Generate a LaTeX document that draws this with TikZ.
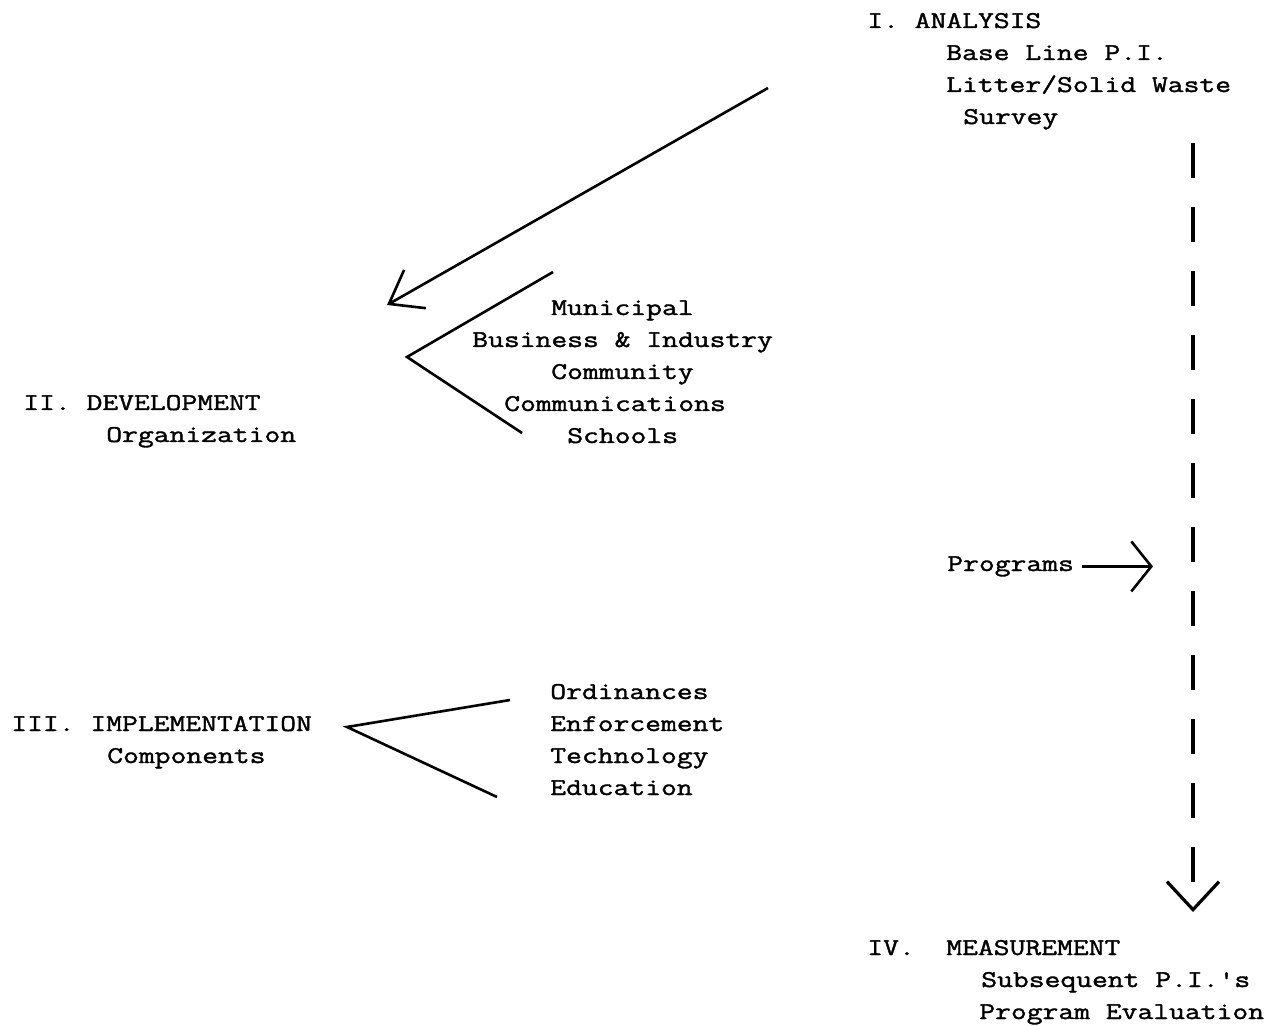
\documentclass[tikz,border=0pt]{standalone}
\usepackage{fontspec}
\newfontfamily\typer{lmmono12-regular.otf}[FakeStretch=1.28,FakeBold=1.5]
\usetikzlibrary{arrows.meta}

\begin{document}
\begin{tikzpicture}[x=0.5pt,y=-0.5pt,line width=1.3pt]
	\tikzstyle{txt} = [inner sep=0pt,anchor=base west,font=\typer\fontsize{12pt}{16pt}\selectfont]
	\tikzstyle{barb} = [-{Straight Barb[length=15pt,width=22pt]}]
	\useasboundingbox (0,0) rectangle (1274,1026);

	% I. analysis
	\node[txt] (ana) at (866,28) {I. ANALYSIS};
	\node[txt] (baseline) at (945,60) {Base Line P.I.};
	\node[txt] (litter) at (945,92) {Litter/Solid Waste};
	\node[txt] (survey) at (962,124) {Survey};

	% II. development
	\node[txt] (dev) at (22,410) {II. DEVELOPMENT};
	\node[txt] (org) at (105,442) {Organization};
	\node[txt] (muni) at (550,315) {Municipal};
	\node[txt] (business) at (471,347) {Business \& Industry};
	\node[txt] (community) at (550,379) {Community};
	\node[txt] (comms) at (503,411) {Communications};
	\node[txt] (schools) at (566,443) {Schools};

	% III. implementation
	\node[txt] (impl) at (10,731) {III. IMPLEMENTATION};
	\node[txt] (comp) at (106,763) {Components};
	\node[txt] (ordin) at (549,699) {Ordinances};
	\node[txt] (enforce) at (549,731) {Enforcement};
	\node[txt] (techn) at (549,763) {Technology};
	\node[txt] (educ) at (549,795) {Education};

	% IV. measurement
	\node[txt] (prog) at (946,571) {Programs};
	\node[txt] (measnum) at (866,955) {IV.};
	\node[txt] (meas) at (945,955) {MEASUREMENT};
	\node[txt] (subseq) at (980,987) {Subsequent P.I.'s};
	\node[txt] (evalu) at (978,1019) {Program Evaluation};

	\coordinate (anatail) at (768,88);
	\coordinate (devhead) at (387,305);
	\coordinate (devtop) at (553,272);
	\coordinate (devtip) at (407,357);
	\coordinate (devbot) at (522,433);
	\coordinate (impltop) at (510,700);
	\coordinate (impltip) at (347,727);
	\coordinate (implbot) at (497,797);
	\coordinate (progtip) at (1153,564);
	\coordinate (dtop) at (1193,143);
	\coordinate (dbot) at (1193,912);

	\draw[barb] (anatail) -- (devhead);
	\draw (devtop) -- (devtip) -- (devbot);
	\draw (impltop) -- (impltip) -- (implbot);
	\draw[-{Straight Barb[length=10pt,width=25pt]},shorten <=3.5pt] (prog.east) -- (prog.east -| progtip);
	\draw[line width=1.6pt,dash pattern=on 17.5pt off 14.5pt,-{Straight Barb[length=14pt,width=26pt]}] (dtop) -- (dbot);
\end{tikzpicture}
\end{document}
